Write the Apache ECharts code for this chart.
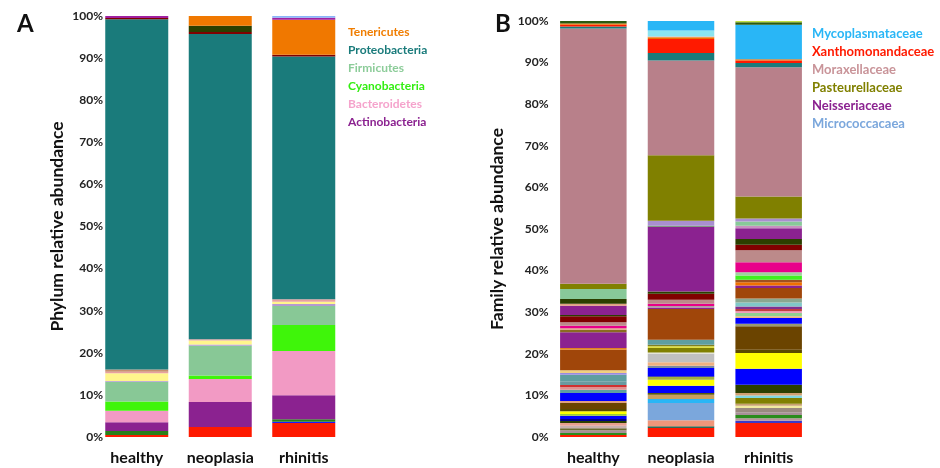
<!DOCTYPE html>
<html>
<head>
<meta charset="utf-8">
<script src="https://cdn.jsdelivr.net/npm/echarts@6/dist/echarts.min.js"></script>
<style>
  html, body { margin: 0; padding: 0; background: #ffffff; }
  #chart { width: 940px; height: 468px; }
</style>
</head>
<body>
<div id="chart"></div>
<script>
// Sample groups shared by both panels
const groups = ['healthy', 'neoplasia', 'rhinitis'];

// Panel A: phylum-level relative abundance (%), stacked bottom to top
const phylumTaxa = ['Phylum 1', 'Phylum 2', 'Phylum 3', 'Actinobacteria', 'Bacteroidetes', 'Cyanobacteria',
  'Firmicutes', 'Phylum 8', 'Phylum 9', 'Phylum 10', 'Phylum 11', 'Proteobacteria', 'Phylum 13',
  'Phylum 14', 'Tenericutes', 'Phylum 16', 'Phylum 17'];
const phylumHealthy   = [0.47, 0,   0.95, 2.1, 2.7,  2.2, 4.7, 0.2, 1.8, 0.4, 0.5, 83.18, 0.3, 0,   0,   0.5, 0];
const phylumNeoplasia = [2.4,  0,   0,    5.9, 5.5,  0.8, 7.1, 0.3, 0.9, 0.3, 0,   72.5,  0.5, 1.5, 2.3, 0,   0];
const phylumRhinitis  = [3.3,  0.3, 0.6,  5.7, 10.5, 6.2, 4.5, 0.5, 0.5, 0.6, 0,   57.7,  0.4, 0,   8.3, 0.5, 0.4];
const phylumColors = ['#fe1a00', '#1a1aff', '#2a7f1a', '#8b2290', '#f29ac4', '#3ff50a', '#88c896', '#b39ad0',
  '#fff68c', '#e8a0a0', '#c89070', '#1a7b7b', '#800000', '#2b3f00', '#f07800', '#a020a0', '#8ab4f8'];

// Panel B: family-level relative abundance (%), stacked bottom to top
const familyTaxa = [];
const familyHealthy = [
  0.48, 0, 0, 0, 0.48, 0.64, 0, 0, 0, 0.48, 0, 0.64, 0.65, 0, 0, 0, 0, 0, 0, 0,
  0.48, 0.48, 0.80, 0.40, 0.64, 0, 0.56, 1.44, 0.48, 0, 0, 1.93, 0, 0, 0.80, 0, 0, 0, 0.64, 0,
  0.48, 0, 0, 0, 0, 0.88, 0, 0, 1.60, 0, 0.40, 0.65, 4.96, 0.40, 3.77, 0, 0.64, 0, 0, 0.32,
  0, 0, 0.64, 0.80, 1.44, 0.33, 2.24, 0.48, 0, 0, 1.12, 2.41, 0, 1.28, 61.34, 0.50, 0.40, 0.30, 0, 0,
  0, 0.60, 0];
const familyNeoplasia = [
  2.16, 0, 0.40, 0, 0, 0, 1.44, 4.17, 0.96, 0, 0, 0, 0, 1.04, 0, 0, 0, 0.40, 0, 0,
  0, 0, 1.76, 0, 1.45, 0.64, 0, 0, 0, 0, 0.20, 1.97, 0.55, 0.80, 0, 2.09, 0.31, 0, 0, 0,
  0, 0, 1.05, 0.40, 0.40, 0, 0, 0, 1.20, 0, 0, 0, 7.38, 0, 0.33, 0, 0, 0, 0, 0,
  0.40, 0, 0.55, 0.95, 1.45, 0.55, 15.60, 0, 0.20, 0, 0, 0, 1.20, 15.70, 22.80, 1.80, 3.40, 0.40, 0.20, 1.40,
  2.30, 0, 0];
const familyRhinitis = [
  3.37, 0.56, 0, 0.56, 0.80, 0.64, 0, 0, 0, 0, 1.04, 0, 0, 0, 0.56, 0.47, 1.38, 0, 0.62, 0.57,
  2.01, 0, 3.85, 0, 3.76, 0, 0.81, 5.60, 0, 0.64, 0, 1.36, 0, 0.40, 0, 0, 0, 0.80, 0, 0.40,
  0, 0.57, 0, 0, 0, 0, 0.63, 0.96, 0, 0.94, 0, 0, 2.50, 0, 0.60, 0.80, 0, 0.60, 1.00, 0,
  0, 0.80, 2.40, 2.90, 1.30, 1.40, 2.60, 0, 0, 0.60, 0, 1.00, 0.70, 5.30, 31.10, 1.00, 0.60, 0.30, 0, 0,
  8.30, 0.60, 0.30];
const familyColors = [
  '#fe1a00', '#3a3ac8', '#2f6a58', '#b8949a', '#2a8c1c', '#a89098', '#f0967a', '#7ba7dc', '#29b6f6', '#6b6b30',
  '#9a8a80', '#c8b0b0', '#e8a090', '#c8a060', '#f0eaa0', '#c8a070', '#808000', '#5a5a10', '#80d8e0', '#d0a070',
  '#2b3f00', '#00008b', '#0000ff', '#9acd32', '#ffff00', '#a0b040', '#5a4a00', '#6b4400', '#e0a080', '#9a9a70',
  '#202080', '#0000ff', '#7a8aa0', '#f0b080', '#5f9ea0', '#c0c0c0', '#e0e0d0', '#90d090', '#e09090', '#f0a0c0',
  '#d03030', '#c04040', '#808000', '#e0e040', '#808020', '#6a9aa0', '#803090', '#80c8c8', '#5f9ea0', '#8aa890',
  '#9a8ae0', '#f0d080', '#a0460a', '#e08020', '#8b2290', '#f07000', '#8a6a20', '#a05020', '#40f020', '#e0a080',
  '#b0a0a0', '#a0d0a0', '#e8008a', '#bc8a8a', '#800000', '#2b3f00', '#8b2290', '#e0a080', '#40a040', '#c890c0',
  '#2b3f00', '#88c999', '#a98fd0', '#808000', '#b8808a', '#1a7b7b', '#ff1a00', '#f07000', '#f0a080', '#8be4f0',
  '#29b6f6', '#2b5a10', '#c0e040'];
const familyNamed = { 7: 'Micrococcacaea', 66: 'Neisseriaceae', 73: 'Pasteurellaceae', 74: 'Moraxellaceae',
  76: 'Xanthomonandaceae', 80: 'Mycoplasmataceae' };
for (let i = 0; i < familyColors.length; i++) familyTaxa.push(familyNamed[i] || ('Family ' + (i + 1)));

// Legend entries (top to bottom) and their text colours
const phylumLegend = ['Tenericutes', 'Proteobacteria', 'Firmicutes', 'Cyanobacteria', 'Bacteroidetes', 'Actinobacteria'];
const phylumLegendColors = ['#f07d00', '#1a7b7b', '#8ccc99', '#33ee11', '#f5a3cc', '#8b2290'];
const familyLegend = ['Mycoplasmataceae', 'Xanthomonandaceae', 'Moraxellaceae', 'Pasteurellaceae', 'Neisseriaceae', 'Micrococcacaea'];
const familyLegendColors = ['#29b6f6', '#ff1a00', '#c99499', '#808000', '#8b2290', '#7ba7dc'];

const FONT = 'Lato, "Liberation Sans", sans-serif';

function buildSeries(names, h, n, r, colors, axisIndex, stackId, width) {
  return names.map((name, i) => ({
    type: 'bar',
    name: name,
    stack: stackId,
    xAxisIndex: axisIndex,
    yAxisIndex: axisIndex,
    barWidth: width,
    itemStyle: { color: colors[i] },
    emphasis: { disabled: true },
    data: [h[i], n[i], r[i]]
  }));
}

function legendTexts(labels, colors, x, y0, step, size) {
  return labels.map((t, i) => ({
    type: 'text',
    left: x,
    top: y0 + i * step,
    style: { text: t, fill: colors[i], font: 'bold ' + size + 'px ' + FONT }
  }));
}

const catAxis = (idx) => ({
  type: 'category',
  gridIndex: idx,
  data: groups,
  axisLine: { show: false },
  axisTick: { show: false },
  axisLabel: { interval: 0, color: '#111', fontFamily: FONT, fontWeight: 'bold', fontSize: 16, margin: 13 }
});

const valAxis = (idx, name, gap, labelMargin) => ({
  type: 'value',
  gridIndex: idx,
  min: 0, max: 100, interval: 10,
  name: name,
  nameLocation: 'middle',
  nameGap: gap,
  nameTextStyle: { color: '#111', fontFamily: FONT, fontWeight: 'bold', fontSize: 17.5 },
  axisLine: { show: false },
  axisTick: { show: false },
  splitLine: { show: false },
  axisLabel: { color: '#222', fontFamily: FONT, fontWeight: 'bold', fontSize: 12, margin: labelMargin, formatter: '{value}%' }
});

const chart = echarts.init(document.getElementById('chart'));
chart.setOption({
  animation: false,
  backgroundColor: '#ffffff',
  grid: [
    { left: 95, top: 16, width: 250.5, bottom: 31 },
    { left: 549.5, top: 21, width: 263, bottom: 31 }
  ],
  xAxis: [catAxis(0), catAxis(1)],
  yAxis: [
    valAxis(0, 'Phylum relative abundance', 29, -8),
    valAxis(1, 'Family relative abundance', 43, 1)
  ],
  graphic: [
    { type: 'text', left: 17, top: 12, style: { text: 'A', fill: '#111', font: 'bold 24px ' + FONT } },
    { type: 'text', left: 495, top: 12, style: { text: 'B', fill: '#111', font: 'bold 24px ' + FONT } }
  ].concat(legendTexts(phylumLegend, phylumLegendColors, 348, 26, 18, 12))
   .concat(legendTexts(familyLegend, familyLegendColors, 812, 27, 18, 13)),
  series: buildSeries(phylumTaxa, phylumHealthy, phylumNeoplasia, phylumRhinitis, phylumColors, 0, 'phylum', 63)
    .concat(buildSeries(familyTaxa, familyHealthy, familyNeoplasia, familyRhinitis, familyColors, 1, 'family', 66.5))
});
</script>
</body>
</html>
